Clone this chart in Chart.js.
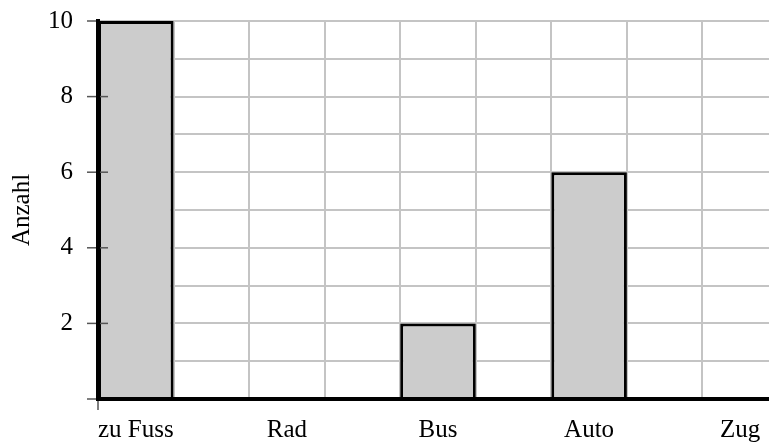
<!DOCTYPE html>
<html>
<head>
<meta charset="utf-8">
<script src="https://cdn.jsdelivr.net/npm/chart.js@4"></script>
<style>
    html, body { margin: 0; padding: 0; background: #fff; overflow: hidden; }
    #wrap { position: absolute; left: 0; top: 0; width: 780px; height: 443px; }
</style>
</head>
<body>
<div id="wrap"><canvas id="chart"></canvas></div>
<script>
const categories = ['zu Fuss', 'Rad', 'Bus', 'Auto', 'Zug'];
const counts = [10, 0, 2, 6, 0];
const yLabelValues = [2, 4, 6, 8, 10];
const yAxisTitle = 'Anzahl';

const FONT = { family: "'Liberation Serif', 'Times New Roman', serif", size: 25 };
const GRID = '#c4c4c4';
const TICK = '#555555';

// each category sits on an even slot, label in the middle of it
const points = categories.map((c, i) => ({ x: i * 2 + 0.5, y: counts[i] }));

// short tick marks that cross the axes
const tickMarks = {
    id: 'tickMarks',
    afterDatasetsDraw(chart) {
        const { ctx, scales: { x, y } } = chart;
        ctx.save();
        ctx.strokeStyle = TICK;
        ctx.lineWidth = 1.5;
        [0].concat(yLabelValues).forEach(v => {
            const py = y.getPixelForValue(v);
            const inner = v > y.min && v < y.max ? 10 : 0;
            ctx.beginPath();
            ctx.moveTo(x.left - 11, py);
            ctx.lineTo(x.left + inner, py);
            ctx.stroke();
        });
        const px = x.getPixelForValue(0);
        ctx.beginPath();
        ctx.moveTo(px, y.bottom);
        ctx.lineTo(px, y.bottom + 11);
        ctx.stroke();
        ctx.restore();
    }
};

new Chart(document.getElementById('chart'), {
    type: 'bar',
    data: {
        datasets: [{
            data: points,
            backgroundColor: '#cccccc',
            borderColor: '#000000',
            borderWidth: 3,
            // ticks are every half slot, so the ruler is half a slot wide
            categoryPercentage: 1,
            barPercentage: 2
        }]
    },
    options: {
        responsive: true,
        maintainAspectRatio: false,
        animation: false,
        layout: { padding: { top: 21, right: 2, left: 0, bottom: 0 } },
        plugins: { legend: { display: false }, tooltip: { enabled: false } },
        scales: {
            x: {
                type: 'linear',
                offset: false,
                min: 0,
                max: 9,
                afterBuildTicks(scale) {
                    const t = [];
                    for (let v = 0; v <= 9; v += 0.5) t.push({ value: v });
                    scale.ticks = t;
                },
                afterFit(scale) {
                    scale.height = 44;
                    scale.paddingLeft = 0;
                    scale.paddingRight = 0;
                },
                grid: {
                    offset: false,
                    color: ctx => (ctx.tick && ctx.tick.value % 1 === 0 && ctx.tick.value > 0) ? GRID : 'rgba(0,0,0,0)',
                    lineWidth: 2,
                    drawTicks: false
                },
                border: { color: '#000', width: 4, z: 1 },
                ticks: {
                    autoSkip: false,
                    maxRotation: 0,
                    padding: 16,
                    color: '#000',
                    font: FONT,
                    callback: v => (v % 2 === 0.5) ? categories[(v - 0.5) / 2] : ''
                }
            },
            y: {
                min: 0,
                max: 10,
                afterFit(scale) {
                    scale.width = 98;
                    scale.paddingTop = 0;
                    scale.paddingBottom = 0;
                },
                grid: {
                    color: ctx => (ctx.tick && ctx.tick.value > 0) ? GRID : 'rgba(0,0,0,0)',
                    lineWidth: 2,
                    drawTicks: false
                },
                border: { color: '#000', width: 4, z: 1 },
                ticks: {
                    stepSize: 1,
                    padding: 25,
                    color: '#000',
                    font: FONT,
                    callback: v => yLabelValues.includes(v) ? String(v) : ''
                },
                title: {
                    display: true,
                    text: yAxisTitle,
                    color: '#000',
                    font: FONT,
                    padding: { top: 7, bottom: 0 }
                }
            }
        }
    },
    plugins: [tickMarks]
});
</script>
</body>
</html>
